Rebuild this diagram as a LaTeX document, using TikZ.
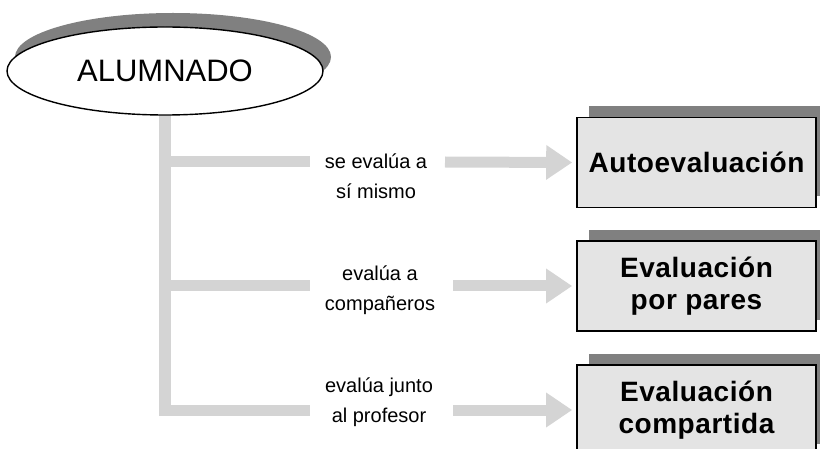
\documentclass[tikz,border=0pt]{standalone}
\usepackage{fontspec}
\setmainfont{Liberation Sans}
\newfontfamily\boxfont[LetterSpace=2]{Liberation Sans}
\usetikzlibrary{arrows.meta,shapes.geometric,shadows}
\definecolor{linegrey}{RGB}{212,212,212}
\definecolor{boxgrey}{RGB}{228,228,228}
\definecolor{shadowgrey}{RGB}{128,128,128}
\begin{document}
\begin{tikzpicture}[x=1pt,y=-1pt,
  conn/.style={draw=linegrey,line width=11pt},
  arr/.style={conn,-{Triangle[length=26pt,width=33pt]}},
  result/.style={draw=black,line width=1.6pt,fill=boxgrey,
    minimum width=239pt,minimum height=90pt,inner sep=0pt,align=center,
    font=\boxfont\bfseries\fontsize{28}{32}\selectfont,
    drop shadow={shadow xshift=12pt,shadow yshift=11pt,fill=shadowgrey,opacity=1}},
  lbl/.style={align=center,font=\fontsize{20}{30}\selectfont,inner sep=0pt},
  root/.style={ellipse,draw=black,line width=1.4pt,fill=white,
    minimum width=316pt,minimum height=88pt,inner sep=0pt,
    font=\fontsize{31}{36}\selectfont,
    drop shadow={shadow xshift=8pt,shadow yshift=14pt,fill=shadowgrey,opacity=1}}]
\useasboundingbox (0,0) rectangle (820,449);

% junction and gap coordinates
\coordinate (j1) at (165,162);
\coordinate (j2) at (165,286);
\coordinate (j3) at (165,410);
\coordinate (s1) at (310,162);
\coordinate (s2) at (310,286);
\coordinate (s3) at (310,410);
\coordinate (e1) at (445,162);
\coordinate (e2) at (453,286);
\coordinate (e3) at (453,410);
\coordinate (tb) at (165,415.5);

% trunk and left branches
\draw[conn,line width=12pt] (165,100) -- (tb);
\draw[conn] (j1) -- (s1);
\draw[conn] (j2) -- (s2);
\draw[conn] (j3) -- (s3);

% root node
\node[root] (alum) at (165,71) {ALUMNADO};

% result boxes
\node[result] (b1) at (696.5,162.5) {Autoevaluación};
\node[result] (b2) at (696.5,286) {Evaluación\\por pares};
\node[result] (b3) at (696.5,410) {Evaluación\\compartida};

% labels
\node[lbl] (l1) at (376,176) {se evalúa a\\sí mismo};
\node[lbl] (l2) at (380,290) {evalúa a\\compañeros};
\node[lbl] (l3) at (379,402) {evalúa junto\\al profesor};

% arrows
\draw[arr] (e1) -- ([xshift=-4pt]b1.west);
\draw[arr] (e2) -- ([xshift=-4pt]b2.west);
\draw[arr] (e3) -- ([xshift=-4pt]b3.west);
\end{tikzpicture}
\end{document}
